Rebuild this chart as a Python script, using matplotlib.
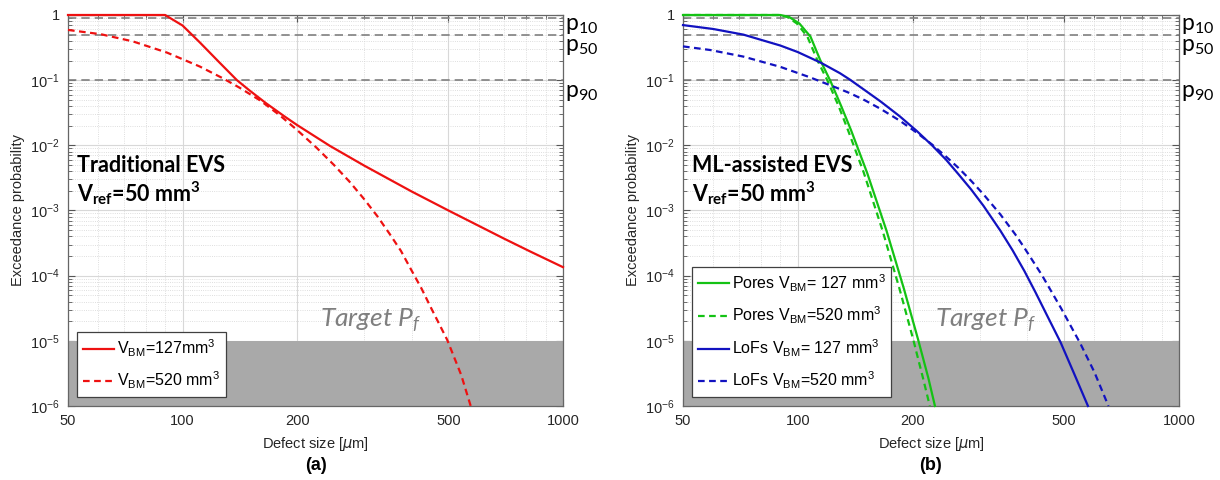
import matplotlib
matplotlib.use('Agg')
import matplotlib.pyplot as plt
from matplotlib.ticker import NullFormatter, LogLocator

plt.rcParams['font.family'] = ['Liberation Sans', 'DejaVu Sans']
plt.rcParams['mathtext.default'] = 'regular'

# ---- data (defect size in um, exceedance probability)
# panel (a) traditional EVS
trad127_x = [50, 70, 90, 100, 111, 125, 139, 150, 166, 185, 200, 244, 300, 400, 500, 700, 820, 1000]
trad127_p = [1, 1, 1, 0.69, 0.38, 0.187, 0.1, 0.0695, 0.044, 0.028, 0.0205, 0.0098, 0.0049,
             0.00196, 1.0e-3, 3.7e-4, 2.35e-4, 1.35e-4]
trad520_x = [50, 61, 74, 91, 111, 128, 141, 160, 180, 200, 225, 250, 275, 300, 325, 350, 375,
             400, 425, 450, 496, 540, 572]
trad520_p = [0.59, 0.507, 0.394, 0.265, 0.162, 0.106, 0.077, 0.0488, 0.029, 0.0172, 0.0092,
             0.005, 0.00275, 0.0015, 8.2e-4, 4.4e-4, 2.4e-4, 1.2e-4, 6.3e-5, 3.2e-5, 1.04e-5,
             3e-6, 1e-6]

# panel (b) ML-assisted EVS
pores127_x = [50, 70, 90, 95, 101, 108, 114.5, 122, 130, 138, 152, 171, 190, 207, 220, 229]
pores127_p = [1, 1, 1, 0.93, 0.74, 0.465, 0.204, 0.095, 0.04, 0.017, 3.8e-3, 4.85e-4, 6.2e-5,
              1.03e-5, 2.7e-6, 1e-6]
pores520_x = [50, 70, 89, 94, 99.5, 106, 112.5, 120, 128, 135.5, 149, 167, 185, 201, 213, 222]
pores520_p = [1, 1, 1, 0.93, 0.74, 0.465, 0.204, 0.095, 0.04, 0.017, 3.8e-3, 4.85e-4, 6.2e-5,
              1.03e-5, 2.7e-6, 1e-6]
lofs127_x = [50, 60, 72, 90, 100, 115, 129, 137, 150, 165, 185, 205, 225, 245, 264, 285, 307,
             340, 366, 393, 420, 450, 489, 530, 577]
lofs127_p = [0.70, 0.61, 0.50, 0.34, 0.27, 0.185, 0.128, 0.102, 0.070, 0.047, 0.028, 0.0167,
             0.0100, 0.0060, 0.0036, 0.0021, 0.00118, 4.9e-4, 2.45e-4, 1.18e-4, 5.6e-5, 2.5e-5,
             9.5e-6, 3.2e-6, 1e-6]
lofs520_x = [50, 59, 72, 90, 107, 115, 129, 137, 150, 165, 185, 205, 225, 245, 264, 285, 307,
             340, 372, 391, 436, 490, 551, 600, 653]
lofs520_p = [0.33, 0.29, 0.23, 0.16, 0.112, 0.095, 0.073, 0.0632, 0.0491, 0.0362, 0.024, 0.0157,
             0.0103, 0.0067, 0.0045, 0.00285, 0.00177, 8.7e-4, 4.3e-4, 2.8e-4, 1.04e-4, 3.2e-5,
             9.1e-6, 3.3e-6, 1e-6]

pvals = [0.9, 0.5, 0.1]
plabels = [r'p$_{10}$', r'p$_{50}$', r'p$_{90}$']
target_pf = 1e-5
xticks = [50, 100, 200, 500, 1000]
yticks = [1e-6, 1e-5, 1e-4, 1e-3, 1e-2, 1e-1, 1]
ylabels = [r'$10^{-6}$', r'$10^{-5}$', r'$10^{-4}$', r'$10^{-3}$', r'$10^{-2}$', r'$10^{-1}$', '1']

red = '#ee1111'
green = '#14c214'
blue = '#1212c0'
annot_font = ['Lato', 'DejaVu Sans']

fig = plt.figure(figsize=(12.2, 4.8), dpi=100)
ax1 = fig.add_axes([68 / 1220, 74 / 480, 495 / 1220, 391 / 480])
ax2 = fig.add_axes([683 / 1220, 74 / 480, 496 / 1220, 391 / 480])


def style_axes(ax):
    ax.set_xscale('log')
    ax.set_yscale('log')
    ax.set_xlim(50, 1000)
    ax.set_ylim(1e-6, 1)
    ax.set_axisbelow(True)
    ax.axhspan(1e-6, target_pf, color='#a9a9a9', lw=0, zorder=1)
    ax.set_xticks(xticks)
    ax.set_xticklabels([str(t) for t in xticks])
    ax.xaxis.set_minor_locator(LogLocator(base=10, subs=range(2, 10)))
    ax.xaxis.set_minor_formatter(NullFormatter())
    ax.set_yticks(yticks)
    ax.set_yticklabels(ylabels)
    ax.yaxis.set_minor_locator(LogLocator(base=10, subs=range(2, 10)))
    ax.yaxis.set_minor_formatter(NullFormatter())
    ax.grid(True, which='major', color='#d8d8d8', lw=0.8)
    ax.grid(True, which='minor', color='#d4d4d4', lw=0.6, ls=':')
    ax.tick_params(which='both', direction='in', top=True, right=True, colors='#555555',
                   labelcolor='#262626', labelsize=10.5, pad=6)
    ax.tick_params(which='major', length=5)
    ax.tick_params(which='minor', length=3)
    for s in ax.spines.values():
        s.set_color('#666666')
        s.set_linewidth(0.9)
    for v in pvals:
        ax.axhline(v, color='#808080', ls=(0, (5, 3)), lw=1.2, zorder=2)
    # p-labels sit just outside the right edge, hanging under their dashed line
    for ypos, lab in zip([1.0, 0.48, 0.095], plabels):
        ax.text(1.004, ypos, lab, transform=ax.get_yaxis_transform(), va='top', ha='left',
                fontsize=16.5, family=annot_font, clip_on=False)
    ax.text(312, 2.1e-5, r'Target $P_f$', style='italic', color='#7f7f7f', fontsize=19,
            ha='center', va='center', family=annot_font, zorder=3)
    ax.set_xlabel(r'Defect size [$\mathit{\mu}$m]', fontsize=10.5, color='#262626', labelpad=5)
    ax.set_ylabel('Exceedance probability', fontsize=10.5, color='#262626', va='center')
    ax.yaxis.set_label_coords(-0.1, 0.5)


def add_legend(ax):
    leg = ax.legend(loc='lower left', bbox_to_anchor=(0.018, 0.023), borderaxespad=0,
                    fontsize=11.5, fancybox=False, framealpha=1, edgecolor='#404040',
                    handlelength=2.0, handletextpad=0.15, labelspacing=0.7, borderpad=0.35)
    leg.get_frame().set_linewidth(0.9)
    leg.set_zorder(6)


style_axes(ax1)
style_axes(ax2)

# (a)
ax1.plot(trad127_x, trad127_p, color=red, lw=1.6, label=r'V$_{BM}$=127mm$^3$', zorder=4,
         clip_on=False)
ax1.plot(trad520_x, trad520_p, color=red, lw=1.6, ls=(0, (3, 2)), label=r'V$_{BM}$=520 mm$^3$',
         zorder=4, clip_on=False)
ax1.text(0.018, 0.616, 'Traditional EVS', transform=ax1.transAxes, fontsize=15.5,
         fontweight='bold', family=annot_font, va='center', ha='left')
ax1.text(0.018, 0.545, r'V$_{ref}$=50 mm$^3$', transform=ax1.transAxes, fontsize=15.5,
         fontweight='bold', family=annot_font, va='center', ha='left')
add_legend(ax1)

# (b)
ax2.plot(pores127_x, pores127_p, color=green, lw=1.6, label=r'Pores V$_{BM}$= 127 mm$^3$',
         zorder=4, clip_on=False)
ax2.plot(pores520_x, pores520_p, color=green, lw=1.6, ls=(0, (3, 2)),
         label=r'Pores V$_{BM}$=520 mm$^3$', zorder=4, clip_on=False)
ax2.plot(lofs127_x, lofs127_p, color=blue, lw=1.6, label=r'LoFs V$_{BM}$= 127 mm$^3$', zorder=4,
         clip_on=False)
ax2.plot(lofs520_x, lofs520_p, color=blue, lw=1.6, ls=(0, (3, 2)),
         label=r'LoFs V$_{BM}$=520 mm$^3$', zorder=4, clip_on=False)
ax2.text(0.018, 0.616, 'ML-assisted EVS', transform=ax2.transAxes, fontsize=15.5,
         fontweight='bold', family=annot_font, va='center', ha='left')
ax2.text(0.018, 0.545, r'V$_{ref}$=50 mm$^3$', transform=ax2.transAxes, fontsize=15.5,
         fontweight='bold', family=annot_font, va='center', ha='left')
add_legend(ax2)

fig.text(315.5 / 1220, 1 - 466 / 480, '(a)', ha='center', va='center', fontsize=13,
         fontweight='bold')
fig.text(931 / 1220, 1 - 466 / 480, '(b)', ha='center', va='center', fontsize=13,
         fontweight='bold')

fig.savefig('out.png', dpi=100)
